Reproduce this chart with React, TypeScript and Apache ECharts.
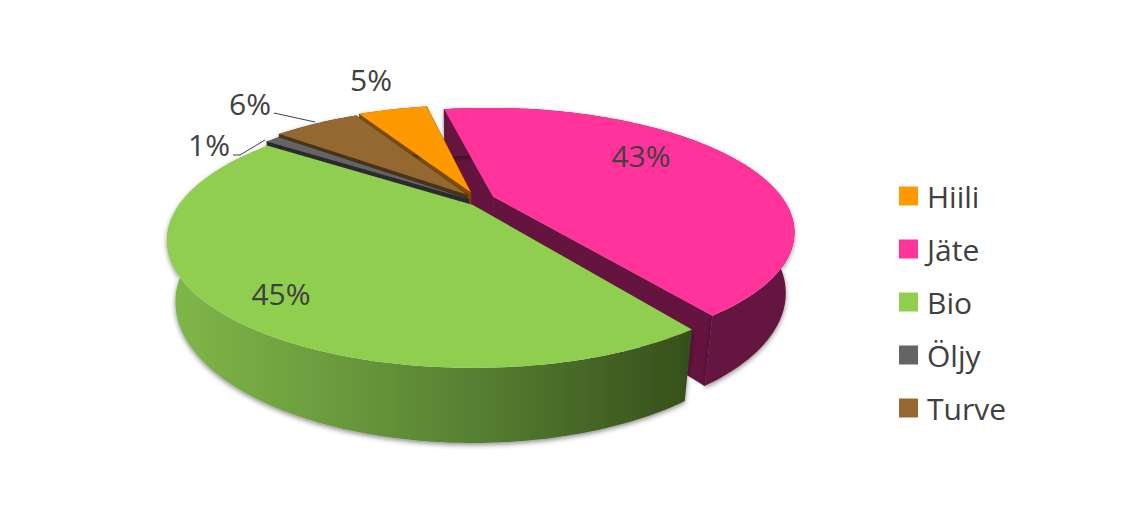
import React, { useEffect, useRef } from "react";
import * as echarts from "echarts";

const categories = ["Hiili", "Jäte", "Bio", "Öljy", "Turve"];
const shares = [4.9, 43.4, 44.7, 1, 6];
const topColors = ["#ff9900", "#ff3399", "#90ce50", "#646464", "#946830"];
const faceColors = ["#7d4c00", "#65133f", "#3a5520", "#2b2b2f", "#4a3418"];
const paintOrder = [1, 0, 4, 3, 2];
const explodeX = [-0.008, 0.07, 0, -0.014, -0.02];
const explodeY = [0.112, 0.072, 0, 0.05, 0.09];
const labelX = [371, 641, 281, 209, 250];
const labelY = [79, 155, 293, 144, 103];
const leaders: (number[][] | null)[] = [
  null,
  null,
  null,
  [[233, 155], [240, 155], [265, 140]],
  [[274, 113], [315, 122]],
];

const FIRST_ANGLE = 331;
const CX = 473, CY = 205, RX = 294, RY = 117.6, K = 0.278, DEPTH = 0.026, WALL = 60.4;

function project(x: number, y: number, bottom: boolean): number[] {
  const w = 1 + K * y + (bottom ? DEPTH : 0);
  return [CX + (RX * x) / w, CY + (-RY * y + (bottom ? WALL : 0)) / w];
}

function rim(i: number, bottom: boolean): number[][] {
  let before = 0;
  for (let j = 0; j < i; j++) before += shares[j];
  const total = shares.reduce((a, b) => a + b, 0);
  const a0 = FIRST_ANGLE + (before / total) * 360;
  const a1 = a0 + (shares[i] / total) * 360;
  const steps = Math.max(2, Math.ceil(a1 - a0));
  const out: number[][] = [];
  for (let s = 0; s <= steps; s++) {
    const t = ((a0 + ((a1 - a0) * s) / steps) * Math.PI) / 180;
    out.push(project(Math.sin(t) + explodeX[i], Math.cos(t) + explodeY[i], bottom));
  }
  return out;
}

function sliceSeries(i: number) {
  return {
    type: "custom",
    name: categories[i],
    coordinateSystem: "none",
    z: 2 + paintOrder.indexOf(i),
    silent: true,
    itemStyle: { color: topColors[i] },
    data: [shares[i]],
    renderItem: (_p: any, api: any) => {
      const top = rim(i, false);
      const bot = rim(i, true);
      const apexT = project(explodeX[i], explodeY[i], false);
      const apexB = project(explodeX[i], explodeY[i], true);
      const poly = (points: number[][], style: any) => ({ type: "polygon", shape: { points }, style });
      const isBio = categories[i] === "Bio";
      const wallFill = isBio
        ? new echarts.graphic.LinearGradient(0, 0, 1, 0, [
            { offset: 0, color: "#80b84a" },
            { offset: 0.3, color: "#6c9c3e" },
            { offset: 0.6, color: "#567e30" },
            { offset: 1, color: "#364f1c" },
          ])
        : faceColors[i];
      const faceStyle = { fill: faceColors[i], stroke: faceColors[i], lineWidth: 0.5 };
      const children: any[] = [
        poly([...top, ...[...bot].reverse()], {
          fill: wallFill,
          shadowBlur: 5,
          shadowColor: "rgba(0,0,0,0.45)",
          shadowOffsetX: 0,
          shadowOffsetY: 2,
        }),
      ];
      if (!isBio) {
        children.unshift(
          poly([apexT, top[0], bot[0], apexB], faceStyle),
          poly([apexT, top[top.length - 1], bot[bot.length - 1], apexB], faceStyle)
        );
      }
      children.push(poly([apexT, ...top], { fill: topColors[i] }));
      const lead = leaders[i];
      if (lead) {
        children.push({
          type: "polyline",
          shape: { points: lead },
          style: { stroke: "#404040", lineWidth: 1, fill: "none" },
        });
      }
      children.push({
        type: "text",
        z2: 50,
        style: {
          text: `${Math.round(api.value(0))}%`,
          x: labelX[i],
          y: labelY[i],
          align: "center",
          verticalAlign: "middle",
          fill: "#404040",
          font: '30px "Open Sans"',
        },
      });
      return { type: "group", children };
    },
  };
}

export default function App() {
  const ref = useRef<HTMLDivElement>(null);
  useEffect(() => {
    const chart = echarts.init(ref.current!, undefined, { renderer: "svg" });
    chart.setOption({
      animation: false,
      backgroundColor: "#ffffff",
      legend: {
        orient: "vertical",
        left: 894,
        top: 174,
        data: categories,
        icon: "rect",
        itemWidth: 19,
        itemHeight: 19,
        itemGap: 19,
        selectedMode: false,
        textStyle: { fontFamily: "Open Sans", fontSize: 30, color: "#404040", lineHeight: 34, padding: [0, 0, 0, 4] },
      },
      series: categories.map((_c, i) => sliceSeries(i)),
    });
    return () => chart.dispose();
  }, []);
  return <div ref={ref} style={{ position: "fixed", left: 0, top: 0, width: 1139, height: 508 }} />;
}
